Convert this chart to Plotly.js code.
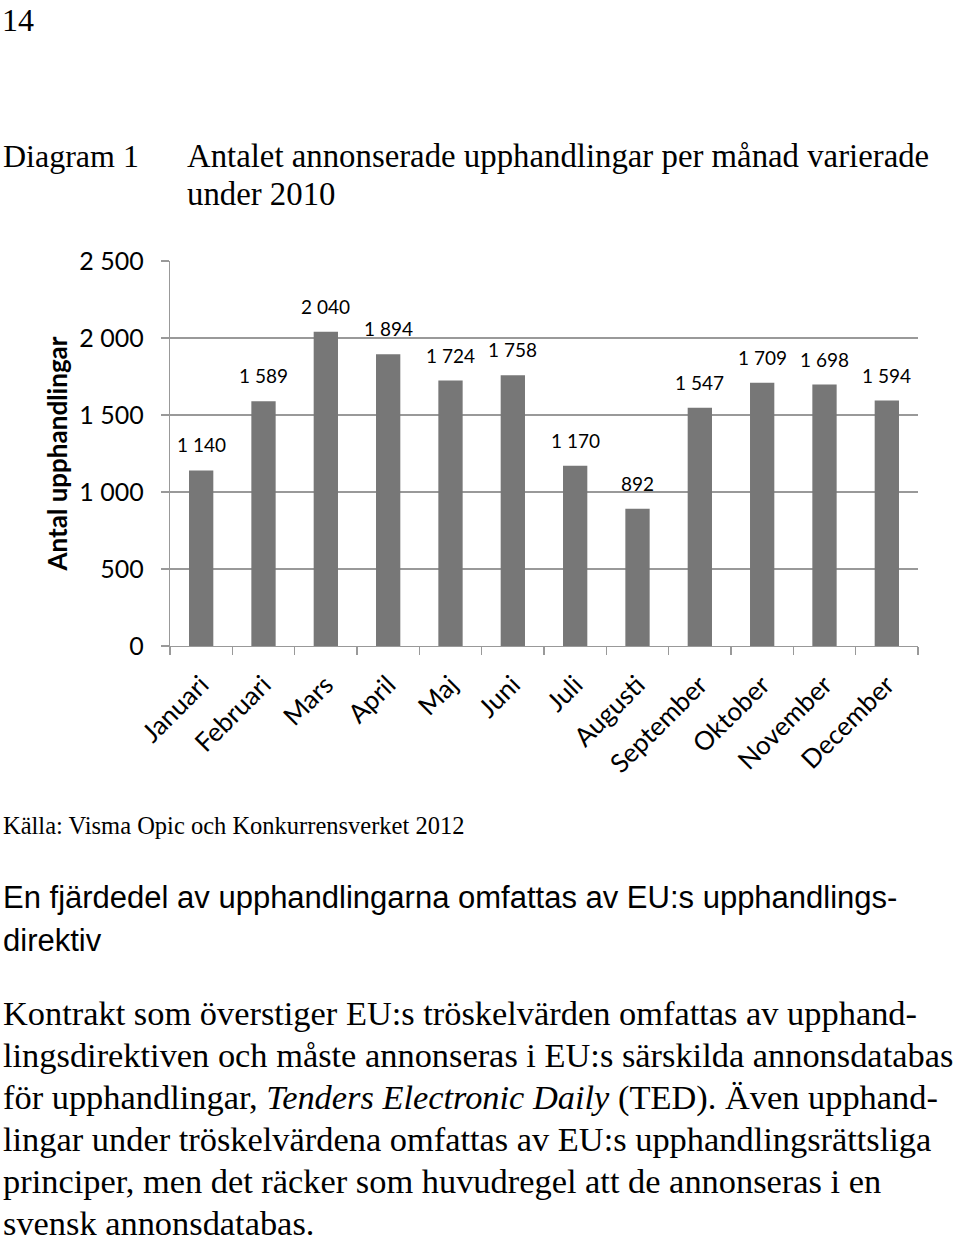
<!DOCTYPE html>
<html>
<head>
<meta charset="utf-8">
<script src="https://cdn.plot.ly/plotly-3.0.1.min.js"></script>
<style>
  html, body { margin: 0; padding: 0; background: #ffffff; }
  #chart { width: 960px; height: 1244px; }
</style>
</head>
<body>
<div id="chart"></div>
<script>
// ---- Data ----
var months = ["Januari", "Februari", "Mars", "April", "Maj", "Juni", "Juli",
              "Augusti", "September", "Oktober", "November", "December"];
var counts = [1140, 1589, 2040, 1894, 1724, 1758, 1170, 892, 1547, 1709, 1698, 1594];
var yTickVals = [0, 500, 1000, 1500, 2000, 2500];
var yTickText = ["0", "500", "1 000", "1 500", "2 000", "2 500"];

var pageNumber = "14";
var diagramLabel = "Diagram 1";
var titleLines = ["Antalet annonserade upphandlingar per månad varierade", "under 2010"];
var yTitle = "Antal upphandlingar";
var sourceText = "Källa: Visma Opic och Konkurrensverket 2012";
var headingLines = ["En fjärdedel av upphandlingarna omfattas av EU:s upphandlings-", "direktiv"];
var paragraphLines = [
  "Kontrakt som överstiger EU:s tröskelvärden omfattas av upphand-",
  "lingsdirektiven och måste annonseras i EU:s särskilda annonsdatabas",
  "för upphandlingar, <i>Tenders Electronic Daily</i> (TED). Även upphand-",
  "lingar under tröskelvärdena omfattas av EU:s upphandlingsrättsliga",
  "principer, men det räcker som huvudregel att de annonseras i en",
  "svensk annonsdatabas."
];

// ---- Layout geometry (pixels) ----
var W = 960, H = 1244;
var mL = 170, mR = 42, mT = 261, mB = 598;
var plotW = W - mL - mR, plotH = H - mT - mB;
function px(x) { return (x - mL) / plotW; }
function py(y) { return (H - mB - y) / plotH; }

function fmt(v) {
  var s = String(v);
  return s.replace(/\B(?=(\d{3})+(?!\d))/g, " ");
}

var serif = "Liberation Serif, Times New Roman, serif";
var sans = "Liberation Sans, Arial, sans-serif";
var chartFont = "Lato, Open Sans, sans-serif";

var annotations = [];

// Data labels above bars
for (var i = 0; i < months.length; i++) {
  annotations.push({
    x: months[i], y: counts[i], xref: "x", yref: "y",
    text: fmt(counts[i]), showarrow: false,
    xanchor: "center", yanchor: "bottom", yshift: 12,
    font: { family: chartFont, size: 19, color: "#000000" }
  });
}

function textAnn(x, y, text, font) {
  annotations.push({
    xref: "paper", yref: "paper", x: px(x), y: py(y),
    xanchor: "left", yanchor: "middle", align: "left",
    text: text, showarrow: false, font: font
  });
}

textAnn(0, 20, pageNumber, { family: serif, size: 32, color: "#000" });
textAnn(1, 156, diagramLabel, { family: serif, size: 32, color: "#000" });
textAnn(185, 156, titleLines[0], { family: serif, size: 32.8, color: "#000" });
textAnn(185, 194, titleLines[1], { family: serif, size: 32.8, color: "#000" });
textAnn(1, 825, sourceText, { family: serif, size: 24.5, color: "#000" });
textAnn(1, 897, headingLines[0], { family: sans, size: 31, color: "#000" });
textAnn(1, 940, headingLines[1], { family: sans, size: 31, color: "#000" });
for (var k = 0; k < paragraphLines.length; k++) {
  textAnn(1, 1013 + k * 42.0, paragraphLines[k], { family: serif, size: 34.4, color: "#000" });
}

var trace = {
  type: "bar",
  x: months,
  y: counts,
  marker: { color: "#777777", line: { width: 0 } },
  hoverinfo: "x+y"
};

var layout = {
  width: W, height: H,
  margin: { l: mL, r: mR, t: mT, b: mB, pad: 0 },
  paper_bgcolor: "#ffffff",
  plot_bgcolor: "#ffffff",
  showlegend: false,
  bargap: 0.61,
  font: { family: chartFont, color: "#000000" },
  xaxis: {
    type: "category",
    tickangle: -45,
    ticks: "outside",
    tickson: "boundaries",
    ticklen: 8,
    tickcolor: "#999999",
    tickwidth: 1.3,
    showline: true,
    linecolor: "#999999",
    linewidth: 1.3,
    showgrid: false,
    ticklabelstandoff: 12,
    tickfont: { family: chartFont, size: 26, color: "#000000" },
    automargin: false
  },
  yaxis: {
    range: [0, 2500],
    tickvals: yTickVals,
    ticktext: yTickText,
    ticks: "outside",
    ticklen: 8,
    tickcolor: "#999999",
    tickwidth: 1.3,
    showline: true,
    linecolor: "#999999",
    linewidth: 1.3,
    showgrid: true,
    gridcolor: "#999999",
    gridwidth: 1.3,
    zeroline: false,
    ticklabelstandoff: 12,
    tickfont: { family: chartFont, size: 25, color: "#000000" },
    title: {
      text: "<b>" + yTitle + "</b>",
      font: { family: chartFont, size: 26, color: "#000000" },
      standoff: 4
    },
    automargin: false
  },
  annotations: annotations
};

Plotly.newPlot("chart", [trace], layout, { displayModeBar: false, staticPlot: true });
</script>
</body>
</html>
